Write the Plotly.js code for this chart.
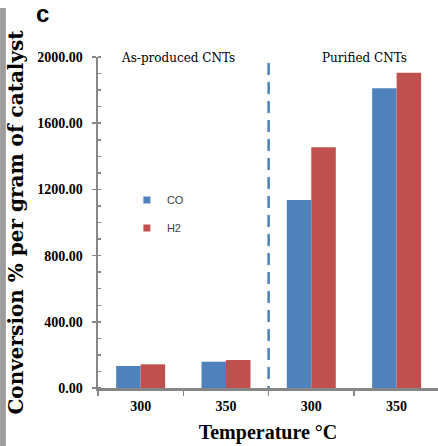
<!DOCTYPE html>
<html>
<head>
<meta charset="utf-8">
<script src="https://cdn.plot.ly/plotly-3.0.1.min.js"></script>
<style>html,body{margin:0;padding:0;background:#fff;}#chart{width:438px;height:446px;}</style>
</head>
<body>
<div id="chart"></div>
<script>
// Data
const groups = ["g1", "g2", "g3", "g4"];
const tickLabels = ["300", "350", "300", "350"];
const coValues = [133, 159, 1136, 1811];
const h2Values = [143, 169, 1454, 1905];
const seriesNames = ["CO", "H2"];
const sectionLabels = ["As-produced CNTs", "Purified CNTs"];

const BLUE = "#4F81BD", RED = "#C0504D", AXIS = "#868686";
const serif = "Liberation Serif";

const traces = [
  {type: "bar", x: groups, y: coValues, name: seriesNames[0], marker: {color: BLUE}, showlegend: false},
  {type: "bar", x: groups, y: h2Values, name: seriesNames[1], marker: {color: RED}, showlegend: false},
  {type: "scatter", mode: "markers", x: [null], y: [null], name: seriesNames[0], legendgroup: "a",
   marker: {symbol: "square", size: 7, color: BLUE}},
  {type: "scatter", mode: "markers", x: [null], y: [null], name: seriesNames[1], legendgroup: "b",
   marker: {symbol: "square", size: 7, color: RED}}
];

const layout = {
  width: 438, height: 446,
  margin: {l: 98, r: 0, t: 57, b: 58},
  paper_bgcolor: "#fff", plot_bgcolor: "#fff",
  barmode: "group", bargap: 0.426, bargroupgap: 0,
  showlegend: true,
  legend: {x: 0.085, y: 0.612, xanchor: "left", yanchor: "top", bgcolor: "rgba(0,0,0,0)",
           tracegroupgap: 9, traceorder: "grouped", itemwidth: 30,
           font: {family: "Liberation Sans", size: 11, color: "#404040"}},
  xaxis: {
    type: "category", range: [-0.5, 3.485], tickmode: "array", tickvals: groups, ticktext: tickLabels,
    tickson: "boundaries", ticks: "outside", ticklen: 5, tickwidth: 1.5, tickcolor: AXIS,
    showline: true, linecolor: AXIS, linewidth: 2.5, showgrid: false, zeroline: false,
    ticklabelstandoff: 4,
    tickfont: {family: serif, size: 14, color: "#000", weight: "bold"},
    title: {text: "Temperature \u00B0C", standoff: 12, font: {family: serif, size: 20, color: "#000", weight: "bold"}}
  },
  yaxis: {
    range: [0, 2000], tickmode: "linear", tick0: 0, dtick: 400, tickformat: ".2f",
    ticks: "outside", ticklen: 4, tickwidth: 1.5, tickcolor: AXIS,
    minor: {dtick: 100, ticks: "inside", ticklen: 3, tickwidth: 1.5, tickcolor: AXIS},
    showline: true, linecolor: AXIS, linewidth: 2.5, showgrid: false, zeroline: false,
    ticklabelstandoff: 6,
    tickfont: {family: serif, size: 14, color: "#000", weight: "bold"},
    title: {text: "Conversion % per gram of catalyst", standoff: 8,
            font: {family: "DejaVu Serif", size: 20, color: "#000", weight: "bold"}}
  },
  shapes: [
    {type: "line", xref: "x", yref: "y", x0: 1.5, x1: 1.5, y0: 1964, y1: 0,
     line: {color: BLUE, width: 2.5, dash: "12px,7px"}},
    {type: "rect", xref: "paper", yref: "paper", x0: -0.288, x1: -0.271, y0: -0.175, y1: 1.148,
     fillcolor: "#9c9c9c", line: {width: 0}, layer: "below"}
  ],
  annotations: [
    {xref: "paper", yref: "paper", x: 0.234, y: 0.997, text: sectionLabels[0], showarrow: false,
     xanchor: "center", yanchor: "middle", font: {family: "DejaVu Serif", size: 12, color: "#000"}},
    {xref: "paper", yref: "paper", x: 0.785, y: 0.997, text: sectionLabels[1], showarrow: false,
     xanchor: "center", yanchor: "middle", font: {family: "DejaVu Serif", size: 12, color: "#000"}},
    {xref: "paper", yref: "paper", x: -0.164, y: 1.132, text: "c", showarrow: false,
     xanchor: "center", yanchor: "middle", font: {family: "Liberation Sans", size: 24, color: "#000", weight: "bold"}}
  ]
};

Plotly.newPlot("chart", traces, layout, {displayModeBar: false, staticPlot: true});
</script>
</body>
</html>
